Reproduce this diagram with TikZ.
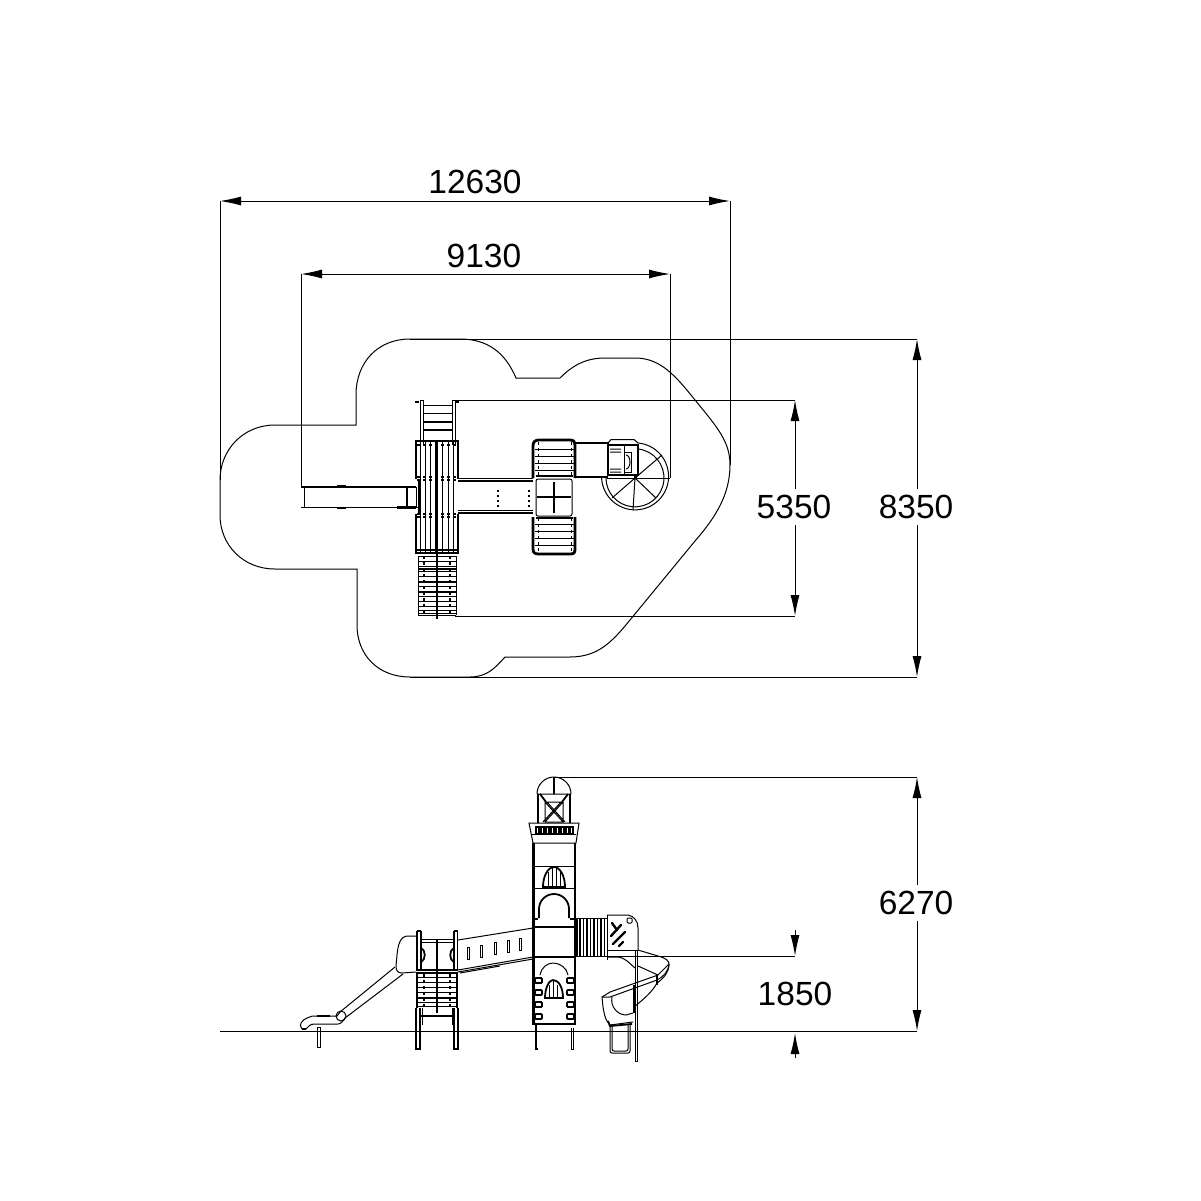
\documentclass[tikz,border=0pt]{standalone}
\usepackage{fontspec}
\setmainfont{Liberation Sans}
\usetikzlibrary{arrows.meta}
\tikzset{
  thin line/.style={line width=1pt},
  heavy/.style={line width=2.8pt},
  medium/.style={line width=1.8pt},
  dim/.style={line width=1pt,{Latex[length=21pt,width=9pt]}-{Latex[length=21pt,width=9pt]}},
  dimend/.style={line width=1pt,-{Latex[length=21pt,width=9pt]}},
  label/.style={font=\fontsize{33.5}{36}\selectfont,inner sep=0pt},
}
\begin{document}
\begin{tikzpicture}[x=1pt,y=-1pt,thin line]
\useasboundingbox (0,0) rectangle (1201,1201);
% safety surface outline
\draw (410,339)--(460,339) .. controls (487,339) and (505,352) .. (516,378)--(560,378)
  .. controls (572,366) and (585,358) .. (605,358)--(635,358)
  .. controls (660,358) and (675,375) .. (695,400) .. controls (718,428) and (730,442) .. (730,465)
  .. controls (730,495) and (715,518) .. (695,541)--(630,620)
  .. controls (612,642) and (598,657) .. (570,657)--(505,657)
  .. controls (495,668) and (487,677) .. (470,677)--(410,677)
  .. controls (378,677) and (357,655) .. (357,625)--(357,569)--(275,569)
  .. controls (243,569) and (220,545) .. (220,515)--(220,480)
  .. controls (220,450) and (243,425) .. (275,425)--(356,425)--(356,395)
  .. controls (356,362) and (378,339) .. (410,339);
% dimensions top view
\draw[dim] (220,201)--(730,201);
\draw (220,201)--(220,480);
\draw (730,201)--(730,465);
\node[label] (width) at (475,182) {12630};
\draw[dim] (301,274)--(670,274);
\draw (301,274)--(301,487);
\draw (670,274)--(670,478);
\node[label] (depth) at (484,256) {9130};
\draw[dim] (917,339)--(917,677);
\draw (410,339)--(917,339);
\draw (410,677)--(917,677);
\node[label,fill=white,inner ysep=6pt] (total) at (916,507) {8350};
\draw[dim] (795,400)--(795,616);
\draw (455,400)--(795,400);
\draw (455,616)--(795,616);
\node[label,fill=white,inner ysep=6pt] (inner) at (794,507) {5350};
% ladder
\draw (420.5,400)--(420.5,445) (423,400)--(423,445) (452,400)--(452,445) (455,400)--(455,445) (420.5,400)--(423,400) (452,400)--(455,400);
\foreach \y in {405.5,413.5,422,430}
  \draw[medium] (423,\y)--(452,\y);
\draw[heavy] (415,402)--(419,402) (456,402)--(459,402);
% slide top view
\draw[medium] (301,487)--(416,487);
\draw (301,507.5)--(420,507.5) (304,487)--(304,507) (416,487)--(416,507);
\draw[heavy] (407,487)--(407,508) (337,486)--(346,486) (337,508)--(346,508) (397,507.5)--(416,507.5);
% decks top view
\draw[heavy] (416,479)--(416,441)--(458,441)--(458,479) (416,514)--(416,553)--(458,553)--(458,514);
\draw[heavy] (419,479)--(419,514);
\foreach \x in {420,425,430,442,448,453}
  \draw (\x,441)--(\x,553);
\draw[heavy] (436.5,441)--(436.5,553);
\foreach \y in {445,477,480,514,517}
  \draw[dashed,medium] (417,\y)--(457,\y);
\draw[medium] (417,550)--(457,550);
% stairs
\foreach \y in {556,561,566,571,576,581,586,591,596,601,606,610,613,615}
  \draw (418,\y)--(456,\y);
\draw (418,556)--(418,615) (456,556)--(456,615);
\draw[medium] (437,553)--(437,619);
\foreach \x in {424,450}
  \draw[dashed,medium] (\x,556)--(\x,615);
\foreach \y in {569,582,592}
  \draw[medium] (418,\y)--(456,\y);
% bridge
\draw (458,478)--(533,478) (458,510)--(533,510);
\draw[medium] (458,481)--(533,481) (458,513)--(533,513);
\foreach \x in {497,528}
  \foreach \y in {490,495,500,505}
    \fill (\x,\y) rectangle ++(1.5,1.5);
% square tower top view
\draw[heavy] (533,478)--(533,446) .. controls (533,442) and (535,440) .. (539,440)--(570,440) .. controls (574,440) and (575,442) .. (575,446)--(575,478);
\draw[heavy] (533,517)--(533,549) .. controls (533,553) and (535,554) .. (539,554)--(570,554) .. controls (574,554) and (575,553) .. (575,549)--(575,517);
\foreach \y in {449,456,463,470,524,531,538,545}
  \draw (535,\y)--(574,\y);
\draw[dashed] (538,442)--(538,477) (571,442)--(571,477) (538,518)--(538,552) (571,518)--(571,552);
\draw[medium] (536,476)--(573,476) (536,518)--(573,518);
\draw[rounded corners=2pt] (536,479) rectangle (572,516);
\draw[medium] (537,497)--(571,497) (554,482)--(554,513);
% second bridge, spiral stair
\draw[medium] (575,443)--(608,443) (575,477)--(608,477);
\draw (607,478)--(670,478);
\draw (608,443)--(608,475) ;
\draw[medium] (608,445)--(638,445)--(638,475)--(608,475)--cycle;
\draw (608,443)--(611,439.5)--(634,439.5)--(638,443) (610,449)--(621,449) (610,472)--(621,472) (610,452)--(621,452) (610,469)--(621,469);
\draw (624,445)--(624,475) (624,452)--(631,452)--(631,472)--(624,472);
\draw (626,455) arc (-90:90:4 and 7);
\draw (638,443) arc (-85:180:33.5);
\draw (638,449) arc (-84:180:29);
\draw (635,478)--(662,455) (635,478)--(612,498) (635,478)--(633,510) (635,478)--(656,498);
\draw[heavy] (634,477)--(637,477);
% ground
\draw (220,1031)--(917,1031);
% slide side view
\draw (302,1029) .. controls (298,1025) and (302,1020) .. (307,1018) .. controls (310,1016) and (313,1016) .. (317,1016)--(337,1016)--(340,1012)--(395,967);
\draw (302,1029)--(306,1029) .. controls (308,1027) and (310,1024) .. (314,1024)--(338,1024) .. controls (341,1024) and (343,1021) .. (345,1018)--(403,974);
\draw[medium] (302,1029)--(306,1029) (317,1016)--(330,1016);
\draw (341,1016) circle[radius=5];
\draw (317.5,1027) rectangle (320,1047);
% hood
\draw (416,936)--(408,936) .. controls (400,936) and (398,945) .. (397,955) -- (396,966) .. controls (396,971) and (398,973) .. (402,973)--(416,972);
% first tower side view
\draw[medium] (417,931)--(417,970) (421,931)--(421,970) (417,931)--(421,931);
\draw[medium] (454,931)--(454,970) (457.5,931)--(457.5,970) (454,931)--(457.5,931);
\draw (421,939)--(454,939) (421,942)--(454,942);
\draw[heavy] (437,939)--(437,1013);
\draw[heavy] (416,970)--(458,970);
\draw[medium] (416,973)--(458,973);
\foreach \y in {977,982,987,992,997,1002,1006}
  \draw (417,\y)--(457,\y);
\draw[medium] (417,973)--(417,1008) (457,973)--(457,1008) (417,998)--(457,998);
\draw[dashed,medium] (424,974)--(424,1010) (450,974)--(450,1010);
\draw[medium] (421,948) .. controls (426,950) and (426,960) .. (421,962);
\draw[medium] (454,948) .. controls (449,950) and (449,960) .. (454,962);
% legs
\draw[medium] (416,1008)--(416,1049)--(420,1049)--(420,1008) (454,1008)--(454,1049)--(458,1049)--(458,1008);
\draw (422,1008)--(422,1025) (452,1008)--(452,1025);
\draw[medium] (421,1016)--(453,1016);
% sloped bridge side view
\draw (458,940)--(533,928);
\draw (458,970)--(533,957) (458,972)--(533,959);
\draw (460,973)--(500,966);
\foreach \x in {468,481,495,508,520}
  \draw (\x-1,947-\x*0.16+75) rectangle ++(2.5,12);
% high tower side view
\draw (537,794) arc (180:360:17) (537,794)--(571,794);
\draw[medium] (554,777)--(554,794);
\draw[medium] (538,794)--(538,823) (570,794)--(570,823) (540,794)--(546,802) (568,794)--(562,802);
\draw (545,802) rectangle (563,822) (545,802)--(563,822) (563,802)--(545,822) (547,802)--(565,822) (561,802)--(543,822);
\draw (529,823)--(579,823)--(576,843)--(533,843)--cycle;
\foreach \x in {536,541,546,551,556,561,566,570}
  \draw[medium] (\x,827) rectangle ++(3,7);
\draw (532,834)--(576,834);
\draw[heavy] (533.5,843)--(533.5,1025) (575,843)--(575,1025);
\draw (534,866)--(575,866) (534,888)--(575,888);
\draw[medium] (543,887) .. controls (543,876) and (548,867) .. (554,867) .. controls (560,867) and (565,876) .. (565,887)--cycle;
\draw (548,887)--(548,872) (552,887)--(552,868) (556,887)--(556,868) (560,887)--(560,872);
\draw[medium] (539,918)--(539,909) arc (180:360:15) --(569,918);
\draw[heavy] (535,919)--(538,919) (570,919)--(574,919);
\draw[medium] (534,927)--(575,927) (534,957)--(575,957);
\draw[heavy] (577,918)--(577,957);
\draw (540,975) .. controls (541,968) and (547,963) .. (553,963) .. controls (560,963) and (567,968) .. (568,975);
\foreach \y in {978,990,1002,1014}{
  \draw[medium,rounded corners=1pt] (535,\y) rectangle ++(7,5);
  \draw[medium,rounded corners=1pt] (567,\y) rectangle ++(7,5);
}
\draw[medium] (545,998) .. controls (545,988) and (549,980) .. (553,980) .. controls (559,980) and (563,988) .. (563,998)--cycle;
\draw (549,998)--(549,985) (553,998)--(553,981) (557,998)--(557,985);
\draw[medium] (534,1024)--(574,1024);
\draw[medium] (536,1025)--(536,1049) (535,1049)--(538,1049);
\draw (571,1028)--(571,1049)--(573.5,1049)--(573.5,1028);
% deck between tower and hood
\draw (578,918)--(607,918) (578,956)--(607,956);
\foreach \x in {580,583.5,587,590.5,594,597.5,601,604.5}
  \draw[medium] (\x,918)--(\x,956);
% spiral slide side view
\draw (607,915)--(628,915) .. controls (634,916) and (638,921) .. (638,928)--(638,950);
\draw (607,915)--(607,960) (607,950)--(625,950)--(638,950);
\draw[rounded corners=1pt] (627,918) rectangle ++(5,5);
\foreach \x/\y/\a/\b in {612/923/617/930,611/936/621/925,613/944/625/932,619/946/623/942}
  \draw[line width=2.4pt,line cap=round] (\x,\y)--(\a,\b);
\draw (607,957)--(617,957) .. controls (625,957) and (630,964) .. (635,968);
\draw (638,950)--(658,956) .. controls (666,958) and (669,961) .. (669,964) .. controls (669,972) and (664,978) .. (657,983)
  .. controls (652,992) and (645,998) .. (634,1007);
\draw (638,966)--(658,975) (669,964)--(658,975)--(610,992)--(602,997)--(603,1007)
  .. controls (604,1013) and (605,1018) .. (607,1021)--(610,1025)--(633,1022);
\draw (669,964) .. controls (668,972) and (664,976) .. (657,980)--(610,997)--(602,997);
\draw (612,997) .. controls (610,1007) and (618,1015) .. (626,1015)--(633,1013);
\draw[medium] (657,975)--(657,985) (634,985)--(634,1013);
\draw (635,950)--(635,1061)--(637.5,1061)--(637.5,950);
\draw[medium] (608,1021)--(610,1026)--(632,1024);
\draw[rounded corners=2pt] (610,1025)--(610,1053)--(630,1053)--(630,1025) (612,1025)--(612,1051)--(628,1051)--(628,1025);
% dimensions side view
\draw[dim] (917,777)--(917,1031);
\draw (554,777)--(917,777);
\node[label,fill=white,inner ysep=6pt] (height) at (916,903) {6270};
\draw[dimend] (795,930)--(795,956);
\draw[dimend] (795,1058)--(795,1033);
\draw (607,956)--(795,956);
\node[label] (fall) at (795,994) {1850};
\end{tikzpicture}
\end{document}
